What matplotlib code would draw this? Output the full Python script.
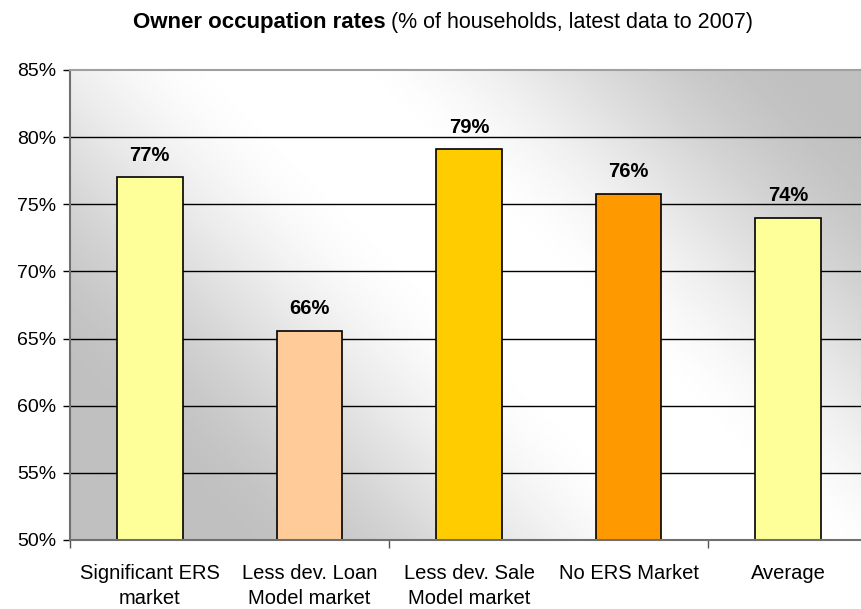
import numpy as np
import matplotlib.pyplot as plt

categories = ["Significant ERS\nmarket", "Less dev. Loan\nModel market",
              "Less dev. Sale\nModel market", "No ERS Market", "Average"]
values = [77.0, 65.6, 79.1, 75.8, 74.0]
labels = ["77%", "66%", "79%", "76%", "74%"]
colors = ["#FFFF99", "#FFCC99", "#FFCC00", "#FF9900", "#FFFF99"]
yticks = [50, 55, 60, 65, 70, 75, 80, 85]

plt.rcParams['font.family'] = ['Liberation Sans', 'DejaVu Sans']

fig = plt.figure(figsize=(8.62, 6.09), dpi=100)
ax = fig.add_axes([70 / 862, 1 - 540 / 609, 798 / 862, 470 / 609])

# diagonal gradient background (45 deg in pixels): grey at bottom-left and top-right
u, v = np.meshgrid(np.linspace(0, 1, 400), np.linspace(0, 1, 300))
p = (u * 798 + v * 470) / 1268
d = np.abs(p - 0.54)
g = np.clip((d - 0.04) / 0.38, 0, 1)
g = g * g * (3 - 2 * g)
shade = 1 - 0.25 * g
ax.imshow(shade, cmap='gray', vmin=0, vmax=1, extent=[0, 1, 0, 1],
          transform=ax.transAxes, aspect='auto', origin='lower', zorder=0,
          interpolation='bilinear')

x = np.arange(len(categories))
ax.bar(x, values, width=0.41, color=colors, edgecolor='black', linewidth=1.2, zorder=2)

for xi, val, lab in zip(x, values, labels):
    ax.annotate(lab, (xi, val), xytext=(0, 9), textcoords='offset points',
                ha='center', va='bottom', fontsize=14.5, fontweight='bold')

ax.set_xlim(-0.5, 4.5)
ax.set_ylim(50, 85)
ax.set_yticks(yticks)
ax.set_yticklabels([f"{t}%" for t in yticks], fontsize=14)
ax.tick_params(axis='y', direction='out', length=5, width=1, pad=5)

ax.set_xticks(x)
ax.set_xticklabels(categories, fontsize=14.5, linespacing=1.4)
ax.tick_params(axis='x', which='major', length=0, pad=17)
ax.set_xticks([-0.5, 1.5, 3.5], minor=True)
ax.tick_params(axis='x', which='minor', direction='out', length=6, width=1, color='#555555')

for t in yticks[1:-1]:
    ax.axhline(t, color='black', linewidth=1, zorder=1)

ax.spines['top'].set_color('#a0a0a0')
ax.spines['top'].set_linewidth(1.5)
ax.spines['left'].set_color('#707070')
ax.spines['left'].set_linewidth(1.5)
ax.spines['bottom'].set_color('#707070')
ax.spines['bottom'].set_linewidth(1.5)
ax.spines['right'].set_visible(False)

# title: bold part followed by normal part, centred as a whole
fig.canvas.draw()
r = fig.canvas.get_renderer()
t1 = fig.text(0, 1 - 28 / 609, "Owner occupation rates", fontsize=16, fontweight='bold',
              ha='left', va='baseline')
t2 = fig.text(0, 1 - 28 / 609, " (% of households, latest data to 2007)", fontsize=15.5,
              ha='left', va='baseline')
w1 = t1.get_window_extent(r).width
w2 = t2.get_window_extent(r).width
x0 = 443 - (w1 + w2) / 2
t1.set_x(x0 / 862)
t2.set_x((x0 + w1) / 862)

fig.savefig("out.png", dpi=100)
